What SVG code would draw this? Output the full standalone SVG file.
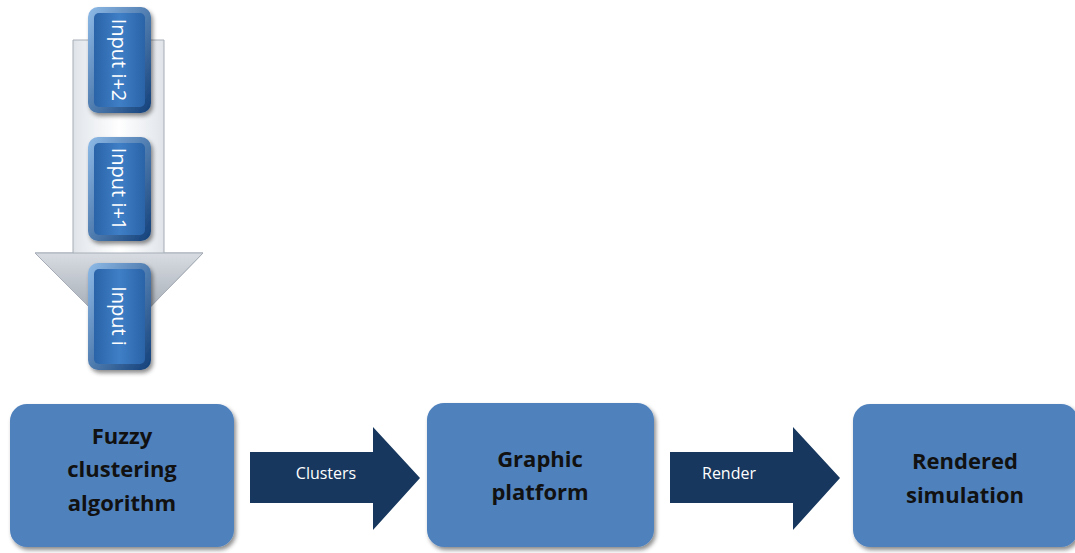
<svg xmlns="http://www.w3.org/2000/svg" width="1075" height="553" viewBox="0 0 1075 553">
<defs>
<linearGradient id="shaftG" x1="0" y1="0" x2="1" y2="0">
<stop offset="0" stop-color="#9ea6b0"/><stop offset="0.25" stop-color="#e3e7ec"/><stop offset="0.5" stop-color="#ffffff"/><stop offset="0.75" stop-color="#e3e7ec"/><stop offset="1" stop-color="#9ea6b0"/>
</linearGradient>
<linearGradient id="headG" x1="0" y1="0" x2="0" y2="1">
<stop offset="0" stop-color="#d8dce2"/><stop offset="1" stop-color="#8f98a3"/>
</linearGradient>
<linearGradient id="btnG" x1="0" y1="0" x2="1" y2="0">
<stop offset="0" stop-color="#2a63a8"/><stop offset="0.5" stop-color="#3f7fc6"/><stop offset="1" stop-color="#2a63a8"/>
</linearGradient>
<linearGradient id="btnEdge" x1="0" y1="0" x2="1" y2="1">
<stop offset="0" stop-color="#8fbbe8"/><stop offset="1" stop-color="#123f78"/>
</linearGradient>
<filter id="sh" x="-10%" y="-10%" width="130%" height="130%">
<feDropShadow dx="2" dy="3" stdDeviation="2" flood-color="#000" flood-opacity="0.45"/>
</filter>
<style>
.box{fill:#4f81bd;filter:url(#sh)}
.lbl{font-family:"Open Sans","Liberation Sans",sans-serif;font-weight:bold;font-size:22px;fill:#111;text-anchor:middle}
.arr{fill:#17375e}
.alb{font-family:"Open Sans","Liberation Sans",sans-serif;font-size:16px;fill:#fff;text-anchor:middle}
.inp{font-family:"Open Sans","Liberation Sans",sans-serif;font-size:20px;fill:#fff;text-anchor:middle}
.btn{fill:url(#btnEdge)}
.btnIn{fill:url(#btnG)}
</style>
</defs>
<rect width="1075" height="553" fill="#fff"/>
<g id="bigArrow">
<path d="M73,40 L164,40 L164,253 L203,253 L120,338 L35,253 L73,253 Z" fill="url(#shaftG)" stroke="#a6adb6" stroke-width="1"/>
<path d="M35,253 L73,253 L164,253 L203,253 L120,338 Z" fill="url(#headG)" stroke="#a6adb6" stroke-width="1"/>
</g>
<g id="input_i2">
<rect x="88" y="7" width="63" height="106" rx="10" class="btn" filter="url(#sh)"/>
<rect x="94" y="13" width="51" height="94" rx="5" class="btnIn"/>
<text class="inp" transform="translate(119,60) rotate(90)" dy="7">Input i+2</text>
</g>
<g id="input_i1">
<rect x="88" y="137" width="63" height="104" rx="10" class="btn" filter="url(#sh)"/>
<rect x="94" y="143" width="51" height="92" rx="5" class="btnIn"/>
<text class="inp" transform="translate(119,189) rotate(90)" dy="7">Input i+1</text>
</g>
<g id="input_i">
<rect x="88" y="263" width="63" height="107" rx="10" class="btn" filter="url(#sh)"/>
<rect x="94" y="269" width="51" height="95" rx="5" class="btnIn"/>
<text class="inp" transform="translate(119,316) rotate(90)" dy="7">Input i</text>
</g>
<g id="fuzzy">
<rect x="10" y="404" width="224" height="143" rx="17" class="box"/>
<text class="lbl" x="122" y="444">Fuzzy</text>
<text class="lbl" x="122" y="477">clustering</text>
<text class="lbl" x="122" y="511">algorithm</text>
</g>
<g id="graphic">
<rect x="427" y="403" width="227" height="144" rx="17" class="box"/>
<text class="lbl" x="540" y="467">Graphic</text>
<text class="lbl" x="540" y="500">platform</text>
</g>
<g id="rendered">
<rect x="853" y="404" width="225" height="143" rx="17" class="box"/>
<text class="lbl" x="965" y="469">Rendered</text>
<text class="lbl" x="965" y="503">simulation</text>
</g>
<g id="connectors">
<path class="arr" d="M250,452 L373,452 L373,427 L420,478 L373,530 L373,503 L250,503 Z"/>
<text class="alb" x="326" y="479">Clusters</text>
<path class="arr" d="M670,452 L793,452 L793,427 L840,478 L793,530 L793,503 L670,503 Z"/>
<text class="alb" x="729" y="479">Render</text>
</g>
</svg>
